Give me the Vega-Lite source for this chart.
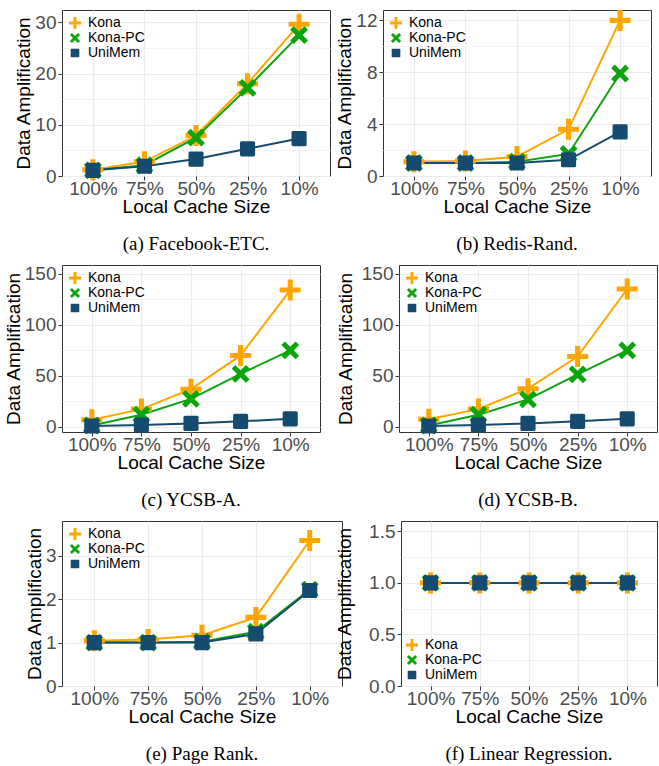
{
  "$schema": "https://vega.github.io/schema/vega-lite/v6.json",
  "padding": {"left": 3, "top": 9, "right": 0, "bottom": 0},
  "background": "white",
  "datasets": {
    "amp": [
      {"panel": "a", "system": "Kona", "cache": "100%", "value": 1.2},
      {"panel": "a", "system": "Kona", "cache": "75%", "value": 2.8},
      {"panel": "a", "system": "Kona", "cache": "50%", "value": 7.9},
      {"panel": "a", "system": "Kona", "cache": "25%", "value": 18.0},
      {"panel": "a", "system": "Kona", "cache": "10%", "value": 29.6},
      {"panel": "a", "system": "Kona-PC", "cache": "100%", "value": 1.1},
      {"panel": "a", "system": "Kona-PC", "cache": "75%", "value": 2.1},
      {"panel": "a", "system": "Kona-PC", "cache": "50%", "value": 7.5},
      {"panel": "a", "system": "Kona-PC", "cache": "25%", "value": 17.2},
      {"panel": "a", "system": "Kona-PC", "cache": "10%", "value": 27.5},
      {"panel": "a", "system": "UniMem", "cache": "100%", "value": 1.1},
      {"panel": "a", "system": "UniMem", "cache": "75%", "value": 1.9},
      {"panel": "a", "system": "UniMem", "cache": "50%", "value": 3.3},
      {"panel": "a", "system": "UniMem", "cache": "25%", "value": 5.3},
      {"panel": "a", "system": "UniMem", "cache": "10%", "value": 7.3},

      {"panel": "b", "system": "Kona", "cache": "100%", "value": 1.1},
      {"panel": "b", "system": "Kona", "cache": "75%", "value": 1.15},
      {"panel": "b", "system": "Kona", "cache": "50%", "value": 1.5},
      {"panel": "b", "system": "Kona", "cache": "25%", "value": 3.6},
      {"panel": "b", "system": "Kona", "cache": "10%", "value": 12.0},
      {"panel": "b", "system": "Kona-PC", "cache": "100%", "value": 1.0},
      {"panel": "b", "system": "Kona-PC", "cache": "75%", "value": 1.0},
      {"panel": "b", "system": "Kona-PC", "cache": "50%", "value": 1.1},
      {"panel": "b", "system": "Kona-PC", "cache": "25%", "value": 1.7},
      {"panel": "b", "system": "Kona-PC", "cache": "10%", "value": 7.9},
      {"panel": "b", "system": "UniMem", "cache": "100%", "value": 1.0},
      {"panel": "b", "system": "UniMem", "cache": "75%", "value": 1.0},
      {"panel": "b", "system": "UniMem", "cache": "50%", "value": 1.0},
      {"panel": "b", "system": "UniMem", "cache": "25%", "value": 1.25},
      {"panel": "b", "system": "UniMem", "cache": "10%", "value": 3.4},

      {"panel": "c", "system": "Kona", "cache": "100%", "value": 7},
      {"panel": "c", "system": "Kona", "cache": "75%", "value": 17.5},
      {"panel": "c", "system": "Kona", "cache": "50%", "value": 37},
      {"panel": "c", "system": "Kona", "cache": "25%", "value": 70},
      {"panel": "c", "system": "Kona", "cache": "10%", "value": 134},
      {"panel": "c", "system": "Kona-PC", "cache": "100%", "value": 1.5},
      {"panel": "c", "system": "Kona-PC", "cache": "75%", "value": 12},
      {"panel": "c", "system": "Kona-PC", "cache": "50%", "value": 27.5},
      {"panel": "c", "system": "Kona-PC", "cache": "25%", "value": 52},
      {"panel": "c", "system": "Kona-PC", "cache": "10%", "value": 75},
      {"panel": "c", "system": "UniMem", "cache": "100%", "value": 1},
      {"panel": "c", "system": "UniMem", "cache": "75%", "value": 2},
      {"panel": "c", "system": "UniMem", "cache": "50%", "value": 3.5},
      {"panel": "c", "system": "UniMem", "cache": "25%", "value": 5.5},
      {"panel": "c", "system": "UniMem", "cache": "10%", "value": 8},

      {"panel": "d", "system": "Kona", "cache": "100%", "value": 7.5},
      {"panel": "d", "system": "Kona", "cache": "75%", "value": 17.5},
      {"panel": "d", "system": "Kona", "cache": "50%", "value": 37.5},
      {"panel": "d", "system": "Kona", "cache": "25%", "value": 69},
      {"panel": "d", "system": "Kona", "cache": "10%", "value": 135},
      {"panel": "d", "system": "Kona-PC", "cache": "100%", "value": 1.5},
      {"panel": "d", "system": "Kona-PC", "cache": "75%", "value": 12},
      {"panel": "d", "system": "Kona-PC", "cache": "50%", "value": 27},
      {"panel": "d", "system": "Kona-PC", "cache": "25%", "value": 51.5},
      {"panel": "d", "system": "Kona-PC", "cache": "10%", "value": 75},
      {"panel": "d", "system": "UniMem", "cache": "100%", "value": 1},
      {"panel": "d", "system": "UniMem", "cache": "75%", "value": 2},
      {"panel": "d", "system": "UniMem", "cache": "50%", "value": 3.5},
      {"panel": "d", "system": "UniMem", "cache": "25%", "value": 5.5},
      {"panel": "d", "system": "UniMem", "cache": "10%", "value": 8},

      {"panel": "e", "system": "Kona", "cache": "100%", "value": 1.04},
      {"panel": "e", "system": "Kona", "cache": "75%", "value": 1.07},
      {"panel": "e", "system": "Kona", "cache": "50%", "value": 1.17},
      {"panel": "e", "system": "Kona", "cache": "25%", "value": 1.58},
      {"panel": "e", "system": "Kona", "cache": "10%", "value": 3.35},
      {"panel": "e", "system": "Kona-PC", "cache": "100%", "value": 1.0},
      {"panel": "e", "system": "Kona-PC", "cache": "75%", "value": 1.0},
      {"panel": "e", "system": "Kona-PC", "cache": "50%", "value": 1.02},
      {"panel": "e", "system": "Kona-PC", "cache": "25%", "value": 1.25},
      {"panel": "e", "system": "Kona-PC", "cache": "10%", "value": 2.22},
      {"panel": "e", "system": "UniMem", "cache": "100%", "value": 1.0},
      {"panel": "e", "system": "UniMem", "cache": "75%", "value": 1.0},
      {"panel": "e", "system": "UniMem", "cache": "50%", "value": 1.0},
      {"panel": "e", "system": "UniMem", "cache": "25%", "value": 1.2},
      {"panel": "e", "system": "UniMem", "cache": "10%", "value": 2.2},

      {"panel": "f", "system": "Kona", "cache": "100%", "value": 1.0},
      {"panel": "f", "system": "Kona", "cache": "75%", "value": 1.0},
      {"panel": "f", "system": "Kona", "cache": "50%", "value": 1.0},
      {"panel": "f", "system": "Kona", "cache": "25%", "value": 1.0},
      {"panel": "f", "system": "Kona", "cache": "10%", "value": 1.0},
      {"panel": "f", "system": "Kona-PC", "cache": "100%", "value": 1.0},
      {"panel": "f", "system": "Kona-PC", "cache": "75%", "value": 1.0},
      {"panel": "f", "system": "Kona-PC", "cache": "50%", "value": 1.0},
      {"panel": "f", "system": "Kona-PC", "cache": "25%", "value": 1.0},
      {"panel": "f", "system": "Kona-PC", "cache": "10%", "value": 1.0},
      {"panel": "f", "system": "UniMem", "cache": "100%", "value": 1.0},
      {"panel": "f", "system": "UniMem", "cache": "75%", "value": 1.0},
      {"panel": "f", "system": "UniMem", "cache": "50%", "value": 1.0},
      {"panel": "f", "system": "UniMem", "cache": "25%", "value": 1.0},
      {"panel": "f", "system": "UniMem", "cache": "10%", "value": 1.0}
    ]
  },
  "resolve": {
    "scale": {"x": "independent", "y": "independent", "color": "independent", "shape": "independent"},
    "axis": {"x": "independent", "y": "independent"},
    "legend": {"color": "independent", "shape": "independent"}
  },
  "columns": 2,
  "align": {"column": "none", "row": "each"},
  "spacing": {"row": 9, "column": -8},
  "concat": [
    {
      "width": 268, "height": 166,
      "title": "(a) Facebook-ETC.",
      "data": {"name": "amp"},
      "transform": [{"filter": "datum.panel === 'a'"}],
      "encoding": {
        "x": {"field": "cache", "type": "ordinal", "sort": ["100%", "75%", "50%", "25%", "10%"], "scale": {"type": "point", "padding": 0.6}, "title": "Local Cache Size"},
        "y": {"field": "value", "type": "quantitative", "scale": {"domain": [0, 32.4], "nice": false, "zero": false}, "title": "Data Amplification",
          "axis": {"values": [0, 5, 10, 15, 20, 25, 30], "labelExpr": "datum.value % 10 === 0 ? datum.label : ''",
            "tickOpacity": {"condition": {"test": "datum.value % 10 !== 0", "value": 0}, "value": 1},
            "gridColor": {"condition": {"test": "datum.value % 10 !== 0", "value": "#F2F2F2"}, "value": "#EBEBEB"}}},
        "color": {"field": "system", "type": "nominal", "scale": {"domain": ["Kona", "Kona-PC", "UniMem"], "range": ["#FFA500", "#0AA50A", "#164B70"]}, "legend": {"title": null, "orient": "top-left"}}
      },
      "layer": [
        {"mark": {"type": "line", "strokeWidth": 2}},
        {"mark": {"type": "point", "filled": true, "size": 441, "opacity": 1},
         "encoding": {"shape": {"field": "system", "type": "nominal", "scale": {"domain": ["Kona", "Kona-PC", "UniMem"], "range": ["M-0.24,-1H0.24V-0.24H1V0.24H0.24V1H-0.24V0.24H-1V-0.24H-0.24Z", "M0,-0.34L0.51,-0.85L0.85,-0.51L0.34,0L0.85,0.51L0.51,0.85L0,0.34L-0.51,0.85L-0.85,0.51L-0.34,0L-0.85,-0.51L-0.51,-0.85Z", "M-0.57,-0.72H0.57Q0.72,-0.72 0.72,-0.57V0.57Q0.72,0.72 0.57,0.72H-0.57Q-0.72,0.72 -0.72,0.57V-0.57Q-0.72,-0.72 -0.57,-0.72Z"]}, "legend": {"title": null, "orient": "top-left"}}}}
      ]
    },
    {
      "width": 268, "height": 166,
      "title": "(b) Redis-Rand.",
      "data": {"name": "amp"},
      "transform": [{"filter": "datum.panel === 'b'"}],
      "encoding": {
        "x": {"field": "cache", "type": "ordinal", "sort": ["100%", "75%", "50%", "25%", "10%"], "scale": {"type": "point", "padding": 0.6}, "title": "Local Cache Size"},
        "y": {"field": "value", "type": "quantitative", "scale": {"domain": [0, 12.8], "nice": false, "zero": false}, "title": "Data Amplification",
          "axis": {"values": [0, 2, 4, 6, 8, 10, 12], "labelExpr": "datum.value % 4 === 0 ? datum.label : ''",
            "tickOpacity": {"condition": {"test": "datum.value % 4 !== 0", "value": 0}, "value": 1},
            "gridColor": {"condition": {"test": "datum.value % 4 !== 0", "value": "#F2F2F2"}, "value": "#EBEBEB"}}},
        "color": {"field": "system", "type": "nominal", "scale": {"domain": ["Kona", "Kona-PC", "UniMem"], "range": ["#FFA500", "#0AA50A", "#164B70"]}, "legend": {"title": null, "orient": "top-left"}}
      },
      "layer": [
        {"mark": {"type": "line", "strokeWidth": 2}},
        {"mark": {"type": "point", "filled": true, "size": 441, "opacity": 1},
         "encoding": {"shape": {"field": "system", "type": "nominal", "scale": {"domain": ["Kona", "Kona-PC", "UniMem"], "range": ["M-0.24,-1H0.24V-0.24H1V0.24H0.24V1H-0.24V0.24H-1V-0.24H-0.24Z", "M0,-0.34L0.51,-0.85L0.85,-0.51L0.34,0L0.85,0.51L0.51,0.85L0,0.34L-0.51,0.85L-0.85,0.51L-0.34,0L-0.85,-0.51L-0.51,-0.85Z", "M-0.57,-0.72H0.57Q0.72,-0.72 0.72,-0.57V0.57Q0.72,0.72 0.57,0.72H-0.57Q-0.72,0.72 -0.72,0.57V-0.57Q-0.72,-0.72 -0.57,-0.72Z"]}, "legend": {"title": null, "orient": "top-left"}}}}
      ]
    },
    {
      "width": 258, "height": 167,
      "title": "(c) YCSB-A.",
      "data": {"name": "amp"},
      "transform": [{"filter": "datum.panel === 'c'"}],
      "encoding": {
        "x": {"field": "cache", "type": "ordinal", "sort": ["100%", "75%", "50%", "25%", "10%"], "scale": {"type": "point", "padding": 0.6}, "title": "Local Cache Size"},
        "y": {"field": "value", "type": "quantitative", "scale": {"domain": [-4.9, 158.5], "nice": false, "zero": false}, "title": "Data Amplification",
          "axis": {"values": [0, 25, 50, 75, 100, 125, 150], "labelExpr": "datum.value % 50 === 0 ? datum.label : ''",
            "tickOpacity": {"condition": {"test": "datum.value % 50 !== 0", "value": 0}, "value": 1},
            "gridColor": {"condition": {"test": "datum.value % 50 !== 0", "value": "#F2F2F2"}, "value": "#EBEBEB"}}},
        "color": {"field": "system", "type": "nominal", "scale": {"domain": ["Kona", "Kona-PC", "UniMem"], "range": ["#FFA500", "#0AA50A", "#164B70"]}, "legend": {"title": null, "orient": "top-left"}}
      },
      "layer": [
        {"mark": {"type": "line", "strokeWidth": 2}},
        {"mark": {"type": "point", "filled": true, "size": 441, "opacity": 1},
         "encoding": {"shape": {"field": "system", "type": "nominal", "scale": {"domain": ["Kona", "Kona-PC", "UniMem"], "range": ["M-0.24,-1H0.24V-0.24H1V0.24H0.24V1H-0.24V0.24H-1V-0.24H-0.24Z", "M0,-0.34L0.51,-0.85L0.85,-0.51L0.34,0L0.85,0.51L0.51,0.85L0,0.34L-0.51,0.85L-0.85,0.51L-0.34,0L-0.85,-0.51L-0.51,-0.85Z", "M-0.57,-0.72H0.57Q0.72,-0.72 0.72,-0.57V0.57Q0.72,0.72 0.57,0.72H-0.57Q-0.72,0.72 -0.72,0.57V-0.57Q-0.72,-0.72 -0.57,-0.72Z"]}, "legend": {"title": null, "orient": "top-left"}}}}
      ]
    },
    {
      "width": 258, "height": 167,
      "title": "(d) YCSB-B.",
      "data": {"name": "amp"},
      "transform": [{"filter": "datum.panel === 'd'"}],
      "encoding": {
        "x": {"field": "cache", "type": "ordinal", "sort": ["100%", "75%", "50%", "25%", "10%"], "scale": {"type": "point", "padding": 0.6}, "title": "Local Cache Size"},
        "y": {"field": "value", "type": "quantitative", "scale": {"domain": [-4.9, 158.5], "nice": false, "zero": false}, "title": "Data Amplification",
          "axis": {"values": [0, 25, 50, 75, 100, 125, 150], "titlePadding": 6, "labelExpr": "datum.value % 50 === 0 ? datum.label : ''",
            "tickOpacity": {"condition": {"test": "datum.value % 50 !== 0", "value": 0}, "value": 1},
            "gridColor": {"condition": {"test": "datum.value % 50 !== 0", "value": "#F2F2F2"}, "value": "#EBEBEB"}}},
        "color": {"field": "system", "type": "nominal", "scale": {"domain": ["Kona", "Kona-PC", "UniMem"], "range": ["#FFA500", "#0AA50A", "#164B70"]}, "legend": {"title": null, "orient": "top-left"}}
      },
      "layer": [
        {"mark": {"type": "line", "strokeWidth": 2}},
        {"mark": {"type": "point", "filled": true, "size": 441, "opacity": 1},
         "encoding": {"shape": {"field": "system", "type": "nominal", "scale": {"domain": ["Kona", "Kona-PC", "UniMem"], "range": ["M-0.24,-1H0.24V-0.24H1V0.24H0.24V1H-0.24V0.24H-1V-0.24H-0.24Z", "M0,-0.34L0.51,-0.85L0.85,-0.51L0.34,0L0.85,0.51L0.51,0.85L0,0.34L-0.51,0.85L-0.85,0.51L-0.34,0L-0.85,-0.51L-0.51,-0.85Z", "M-0.57,-0.72H0.57Q0.72,-0.72 0.72,-0.57V0.57Q0.72,0.72 0.57,0.72H-0.57Q-0.72,0.72 -0.72,0.57V-0.57Q-0.72,-0.72 -0.57,-0.72Z"]}, "legend": {"title": null, "orient": "top-left"}}}}
      ]
    },
    {
      "width": 280, "height": 165,
      "title": "(e) Page Rank.",
      "data": {"name": "amp"},
      "transform": [{"filter": "datum.panel === 'e'"}],
      "encoding": {
        "x": {"field": "cache", "type": "ordinal", "sort": ["100%", "75%", "50%", "25%", "10%"], "scale": {"type": "point", "padding": 0.6}, "title": "Local Cache Size"},
        "y": {"field": "value", "type": "quantitative", "scale": {"domain": [0, 3.8], "nice": false, "zero": false}, "title": "Data Amplification",
          "axis": {"values": [0, 0.5, 1, 1.5, 2, 2.5, 3, 3.5], "format": "d", "labelExpr": "datum.value % 1 === 0 ? datum.label : ''",
            "tickOpacity": {"condition": {"test": "datum.value % 1 !== 0", "value": 0}, "value": 1},
            "gridColor": {"condition": {"test": "datum.value % 1 !== 0", "value": "#F2F2F2"}, "value": "#EBEBEB"}}},
        "color": {"field": "system", "type": "nominal", "scale": {"domain": ["Kona", "Kona-PC", "UniMem"], "range": ["#FFA500", "#0AA50A", "#164B70"]}, "legend": {"title": null, "orient": "top-left"}}
      },
      "layer": [
        {"mark": {"type": "line", "strokeWidth": 2}},
        {"mark": {"type": "point", "filled": true, "size": 441, "opacity": 1},
         "encoding": {"shape": {"field": "system", "type": "nominal", "scale": {"domain": ["Kona", "Kona-PC", "UniMem"], "range": ["M-0.24,-1H0.24V-0.24H1V0.24H0.24V1H-0.24V0.24H-1V-0.24H-0.24Z", "M0,-0.34L0.51,-0.85L0.85,-0.51L0.34,0L0.85,0.51L0.51,0.85L0,0.34L-0.51,0.85L-0.85,0.51L-0.34,0L-0.85,-0.51L-0.51,-0.85Z", "M-0.57,-0.72H0.57Q0.72,-0.72 0.72,-0.57V0.57Q0.72,0.72 0.57,0.72H-0.57Q-0.72,0.72 -0.72,0.57V-0.57Q-0.72,-0.72 -0.57,-0.72Z"]}, "legend": {"title": null, "orient": "top-left"}}}}
      ]
    },
    {
      "width": 256, "height": 165,
      "title": "(f) Linear Regression.",
      "data": {"name": "amp"},
      "transform": [{"filter": "datum.panel === 'f'"}],
      "encoding": {
        "x": {"field": "cache", "type": "ordinal", "sort": ["100%", "75%", "50%", "25%", "10%"], "scale": {"type": "point", "padding": 0.6}, "title": "Local Cache Size"},
        "y": {"field": "value", "type": "quantitative", "scale": {"domain": [0, 1.6], "nice": false, "zero": false}, "title": "Data Amplification",
          "axis": {"values": [0, 0.25, 0.5, 0.75, 1, 1.25, 1.5], "format": ".1f", "titlePadding": 14, "labelExpr": "datum.value % 0.5 === 0 ? datum.label : ''",
            "tickOpacity": {"condition": {"test": "datum.value % 0.5 !== 0", "value": 0}, "value": 1},
            "gridColor": {"condition": {"test": "datum.value % 0.5 !== 0", "value": "#F2F2F2"}, "value": "#EBEBEB"}}},
        "color": {"field": "system", "type": "nominal", "scale": {"domain": ["Kona", "Kona-PC", "UniMem"], "range": ["#FFA500", "#0AA50A", "#164B70"]}, "legend": {"title": null, "orient": "bottom-left", "offset": 4}}
      },
      "layer": [
        {"mark": {"type": "line", "strokeWidth": 2}},
        {"mark": {"type": "point", "filled": true, "size": 441, "opacity": 1},
         "encoding": {"shape": {"field": "system", "type": "nominal", "scale": {"domain": ["Kona", "Kona-PC", "UniMem"], "range": ["M-0.24,-1H0.24V-0.24H1V0.24H0.24V1H-0.24V0.24H-1V-0.24H-0.24Z", "M0,-0.34L0.51,-0.85L0.85,-0.51L0.34,0L0.85,0.51L0.51,0.85L0,0.34L-0.51,0.85L-0.85,0.51L-0.34,0L-0.85,-0.51L-0.51,-0.85Z", "M-0.57,-0.72H0.57Q0.72,-0.72 0.72,-0.57V0.57Q0.72,0.72 0.57,0.72H-0.57Q-0.72,0.72 -0.72,0.57V-0.57Q-0.72,-0.72 -0.57,-0.72Z"]}, "legend": {"title": null, "orient": "bottom-left", "offset": 4}}}}
      ]
    }
  ],
  "config": {
    "view": {"stroke": "#333333", "strokeWidth": 1},
    "axis": {
      "domain": false,
      "labelFont": "Liberation Sans", "labelFontSize": 19, "labelColor": "#4D4D4D",
      "titleFont": "Liberation Sans", "titleFontSize": 19, "titleFontWeight": "normal", "titleColor": "#000000",
      "tickColor": "#333333", "tickSize": 4, "tickWidth": 1,
      "gridColor": "#EBEBEB", "gridWidth": 1.1, "labelPadding": 2
    },
    "axisX": {"labelAngle": 0, "grid": true, "labelOverlap": false, "titlePadding": -1, "labelPadding": -1},
    "axisY": {"titlePadding": 1, "labelOverlap": false},
    "legend": {
      "labelFont": "Liberation Sans", "labelFontSize": 14, "labelColor": "#000000",
      "symbolSize": 144, "padding": 0, "offset": 6, "rowPadding": 1, "labelOffset": 6,
      "symbolStrokeWidth": 0, "symbolOpacity": 1
    },
    "title": {
      "orient": "bottom", "font": "Liberation Serif", "fontSize": 19, "fontWeight": "normal",
      "color": "#000000", "frame": "group", "anchor": "middle", "offset": 19
    }
  }
}
